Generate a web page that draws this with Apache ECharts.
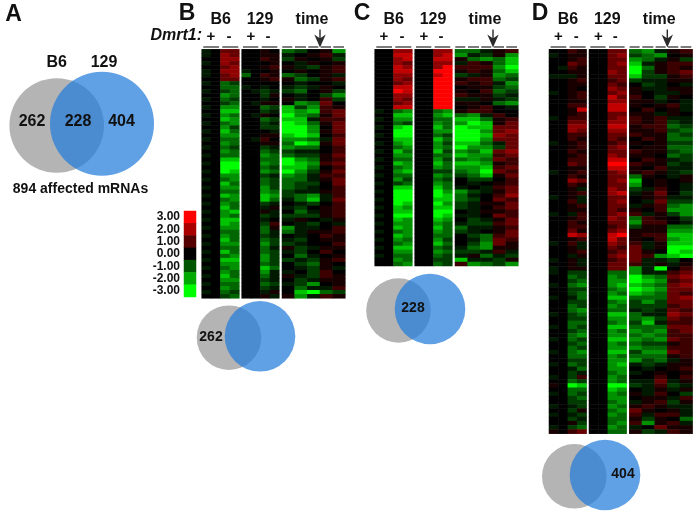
<!DOCTYPE html>
<html><head><meta charset="utf-8">
<style>html,body{margin:0;padding:0;background:#fff}#c{width:698px;height:515px;filter:blur(0.4px)}</style>
<script src="https://cdn.jsdelivr.net/npm/echarts@6/dist/echarts.min.js"></script>
</head><body><div id="c"></div>
<script>
// Cell codes: 0 = 0; a..f = positive steps (red); A..F = negative steps (green)
// Each row: B6 (+ +, - -)  129 (+ +, - -)  time (5 points)
const cellSteps = [0.3,0.7,1.2,1.7,2.3,3];
const panelBRows = [
"A0cc 00a0 CB0aD","A0dc 00aa A0abA","00dd 00ba Ba0aB","A0dc 000a 0Aa0a","00cd 00ab aABab","A0dd A00a 0a0ab","A0cd C0ba CB0aA","00cc 00ab aCBab",
"A0CB 0000 0A00A","00CC A0A0 ABAa0","A0BC 0ABA BC0aB","00DC 00Ba 0A0BD","A0CB 00A0 aA0bB","00BC 0Aaa 0DCc0","A0DD 00CB EBDba","00EE 00BA EDEbc",
"A0DC 0Aa0 FDCac","00ED 00CB EEAbb","A0CD 00BA FECac","00DB 00BB FFD0c","A0EC 000A FFDac","00DD 00aa EFE0b","A0CC 0Ab0 DDCAc","00DC 00aa CFEac",
"A0CB 00BA DCC0b","00DC 00CB BAA0b","A0CC 00DC CBBac","00EE 00CC FDCab","A0FF 00DC FEDbc","00FF 00CB EEC0b","A0FE 00DC FDBac","00DD 00BA DCAbb",
"A0CD 00CB CCAac","00EC 00CB CBB0c","A0DD 00DB CBA0b","00CC 00DC BAAab","A0ED 00ED BCDAb","00CD 00EC ACEAc","A0DC 00BA 0AB0b","00EC 00Aa AB0ab",
"A0DE 00aA 0CAab","00DC 00BA BBBab","A0EE 00A0 Aa0Aa","00ED 00Bb 0AB0A","A0DD 00Ca DAA0b","00CC 00CA CAaab","A0DC 00BA 0A0ba","00EC 00CB AB0aa",
"A0DD 00DB BA00b","00CC 00CA aBAaa","A0EC 00CB AB0b0","00CD 00DB 0CA0a","A0EE 00DB BABab","00DD 00CB 0BCa0","A0CD 00EC 0ABaA","00DC 00DA A0Bb0",
"A0EC 00CA aABba","00DD 00BA 0BAaa","A0CC 00CB ABD0a","00DC 00BA 0CAAb","A0CB 00Aa 0EFCB","00BC 00aA aDAba"];
const panelCRows = [
"00dd 00dd CCAab","00ee 00de DABaD","00de 00ee aCDCE","00dc 00dd AbaCE","00ed 00df bbbDF","00ee 00ff abaCE","00dd 00ef BAaDC","00dc 00ff abbCB",
"00cd 00ff babAD","00ee 00ff 0aaBC","00fe 00ff a0bCB","00dd 00ff baaBA","00dc 00ff AAaAB","00cd 00ff aa0CD","00ee 00ff 0ab0A",
"A0CD 00CD abb00","00EE 00DE CDAb0","A0DD 00CC EECab","00CB 00DC DFEac","A0EF 00EC FEEcc","00FF 00DD FFDcd","A0FF 00CB FFEdc","00EE 00EC FFDcc",
"A0DE 00DB EECAc","00CD 00DC FDDBc","A0EC 00EB DCEcd","00DD 00CC EDDbc","A0CC 00DB CDCcb","00ED 00EC EEDab","A0CD 00DC DDEbc","00DE 00BB CDFcb",
"A0CC 00DC BCEac","00DB 00CB 0BB0b","A0BC 00DC 0A0ab","00EE 00EC A0Abc","A0FF 00FD DBAac","00FF 00FE CA0bd","A0FF 00EE CB0cb","00FE 00FD BAaac",
"A0ED 00EE BA0bc","00EE 00FF 0Aaab","A0FF 00FE AA0cb","00ED 00ED 0BAac","A0DD 00DC ABBbc","00ED 00EC CAAab","A0CD 00DC BA0ac","00ED 00CC 0BCbc",
"A0DC 00DB 0ACcb","00CD 00EC 0BDca","A0EE 00CB ACDaa","00DD 00DC BBAbA","A0CC 00CB AaCAB","00DC 00BB EAABa","00CD 00CB bDCBD"];
const panelDRows = [
"00ba 00cc CDAab","A0aa 00cd BCD0a","00ab 00cc DCAaB","00cb 00cd EAabb","0Aba 00cc FCaba","00aa 00dc FBabc","AAAa 00cc EBBab","00ab 00bc BAAaa",
"00aa 00cb 0BA0A","00a0 00dc aAAaa","A0ab 00cd a0AAa","00ab 00ec b0Ba0","00aa 00dd aaA0A","00bb 00ee a0abA","00ae 00ee 0b0aA","00ab 00cc aaAa0",
"A0bb 00cd babAA","00cc 00dd babBA","00dd 00ee abbCB","00dc 00dd aabBC","00bb 00cc baaCB","00ba 00cb 0baCC","A0ab 00bc a0aBB","00ab 00cd 0aaCC",
"00ba 00cc baaBC","00ab 00dc aa0CB","00bb 00ee 0baAB","00cb 00ff baaBA","00aa 00ee a0bAA","A0ab 00cd abaAB","00ba 00cc Ca0Aa","00dc 00cd E0a0a",
"00ba 00cc D0a0A","00aA 00dc BAb0A","00ab 00de Aac0B","A0aA 00cc 0abAA","00bA 00cd 0AcBB","00ab 00cc AabCD","00aa 00cb a0bDD","A0Ab 00cd bAaBD",
"00ab 00dc Cba0B","00ba 00cc Dbb0A","00bb 00bc BaaCC","00ca 00cd aaaDD","00ed 00ef abbEE","00ab 00ec a0bDE","A0bA 00dc bAaEE","00aA 00cb cAaFF",
"00ab 00bc ca0FE","00Aa 00cd cbDEF","A0aA 00bc cAAB0","00aA 00cc bAaAa","A0aa 00cc DAF0b","A0BB 00CC DAAbc",
"00CB 00DC FDCcd","00BC 00DD FEDbc","A0CD 00DE EDCcd","00BB 00CD FEDcc","00BC 00DC EDCcb","A0AC 00EE CCCcd","00BB 00CD BDBcc","00CB 00DC BBBbc",
"00CD 00CC ABAcb","A0BC 00EE CAAdc","00BB 00DD CDBcb","00CC 00CD BEAbb","A0CB 00EE CCCcc","00BC 00DC DCDbc","00CD 00DD CDCbb","A0CB 00EE DCDcb",
"00BC 00DC CBBab","00CB 00DD DCCbb","A0CD 00EE BDDcb","00CC 00DC CCCab","00BB 00DD DBCAa","A0CB 00DE ABAaa","00AC 00DD 0A0ab","00BA 00CD A0a0a",
"A0Bb 00DC 00b0b","00CB 00DC AAcAa","a0FE 00FF BAbBA","00CC 00ED 0AaAa","A0CB 00DC aAb0B","00BC 00DD 0aaAb","00BB 00CD AabBa","A0AB 00DC abaAA",
"00Ba 00CD ca0aA","A0AB 00DC bAbbA","00BA 00CC aBa0C","00aB 00CD bDabA","A0BC 00DC A0caa","a0bc 00CC aBAba"];
const legendLabels = ["3.00","2.00","1.00","0.00","-1.00","-2.00","-3.00"];
const legendValues = [3,2,1,0,-1,-2,-3];
const mainVenn = {sets:["B6","129"],counts:[262,228,404],total:"894 affected mRNAs"};

const codeValue = ch => {
  if (ch === "0") return 0;
  const low = "abcdef".indexOf(ch);
  if (low >= 0) return cellSteps[low];
  return -cellSteps["ABCDEF".indexOf(ch)];
};

const panels = [
  {rows:panelBRows,dx:0,top:49.3,bottom:298.3,letter:"B",lx:187},
  {rows:panelCRows,dx:173,top:49.3,bottom:266,letter:"C",lx:362},
  {rows:panelDRows,dx:347.3,top:49.3,bottom:433.7,letter:"D",lx:540}
];
const grids=[],xAxes=[],yAxes=[],series=[],graphics=[];
const hidden = (type,extra)=>Object.assign({type,show:false},extra);

function heat(left,width,top,height,colCount,rowCount,data){
  const i=grids.length;
  grids.push({left,top,width,height,containLabel:false});
  xAxes.push(hidden("category",{gridIndex:i,data:[...Array(colCount).keys()]}));
  yAxes.push(hidden("category",{gridIndex:i,inverse:true,data:[...Array(rowCount).keys()]}));
  series.push({type:"heatmap",xAxisIndex:i,yAxisIndex:i,data,silent:true,progressive:0,animation:false});
}
const text=(t,x,y,font,align,color)=>graphics.push({type:"text",z:100,silent:true,
  style:{text:t,x,y,font,textAlign:align||"center",textVerticalAlign:"middle",fill:color||"#111"}});
const F="Liberation Sans, Arial, sans-serif";

panels.forEach(p=>{
  const rows=p.rows.map(r=>r.replace(/ /g,"").split("").map(codeValue));
  const h=p.bottom-p.top, n=rows.length;
  const blocks=[[201.7,37.6,0,4],[241.7,37.6,4,4],[282,63.3,8,5]];
  blocks.forEach(([x,w,start,cols])=>{
    const data=[];
    rows.forEach((r,y)=>{for(let c=0;c<cols;c++)data.push([c,y,r[start+c]]);});
    heat(x+p.dx,w,p.top,h,cols,n,data);
  });
  const d=p.dx;
  text(p.letter,p.lx,14,"bold 23px "+F);
  text("B6",220.7+d,20,"bold 16px "+F);
  text("129",260+d,20,"bold 16px "+F);
  text("time",312+d,20,"bold 16px "+F);
  [[211,"+"],[229,"-"],[251,"+"],[268,"-"]].forEach(([x,s])=>text(s,x+d,36.5,"bold 15px "+F));
  [[203.3,219],[222.3,238.3],[243,258.3],[261.7,277.3],[282.3,292.3],[295,306],[308.3,318.3],[320.7,331],[333.3,344]].forEach(([a,b])=>
    graphics.push({type:"rect",z:100,silent:true,shape:{x:a+d,y:46.3,width:b-a,height:1.4},style:{fill:"#444"}}));
  graphics.push({type:"polygon",z:101,silent:true,shape:{points:[[320+d,47.5],[314.3+d,34.5],[319.3+d,38],[319.3+d,29.5],[320.7+d,29.5],[320.7+d,38],[325.7+d,34.5]]},style:{fill:"#2b2b2b"}});
});
text("A",13.5,15,"bold 23px "+F);
text("Dmrt1:",202,36,"italic bold 16px "+F,"right");

// colour legend
{
  const i=grids.length;
  grids.push({left:184,top:211,width:12,height:86});
  xAxes.push(hidden("category",{gridIndex:i,data:[0]}));
  yAxes.push({type:"category",gridIndex:i,inverse:true,data:legendLabels,axisLine:{show:false},axisTick:{show:false},
    axisLabel:{interval:0,fontFamily:F,fontWeight:"bold",fontSize:12,color:"#111",margin:4}});
  series.push({type:"heatmap",xAxisIndex:i,yAxisIndex:i,silent:true,animation:false,data:legendValues.map((v,k)=>[0,k,v])});
}

// Venn overlays: one page-sized value grid
{
  const i=grids.length;
  grids.push({left:0,top:0,width:698,height:515});
  xAxes.push(hidden("value",{gridIndex:i,min:0,max:698}));
  yAxes.push(hidden("value",{gridIndex:i,min:0,max:515,inverse:true}));
  const scatter=(pts,color)=>series.push({type:"scatter",xAxisIndex:i,yAxisIndex:i,silent:true,animation:false,z:3,
    data:pts.map(q=>({value:[q[0],q[1]],symbolSize:q[2]*2})),itemStyle:{color,opacity:1}});
  scatter([[56.7,125.5,47.3],[229,337.7,32.3],[398.5,310.5,32.3],[574.3,476.3,32.3]],"#b4b4b4");
  scatter([[102,123.7,52],[260,336.3,35.3],[430,309,35.3],[605,475,35.3]],"rgba(34,123,217,0.72)");
}
text(mainVenn.sets[0],56.7,62.7,"bold 16px "+F);
text(mainVenn.sets[1],104,62.7,"bold 16px "+F);
text(String(mainVenn.counts[0]),32,121.5,"bold 16px "+F);
text(String(mainVenn.counts[1]),78,121.5,"bold 16px "+F);
text(String(mainVenn.counts[2]),121.5,121.5,"bold 16px "+F);
text(mainVenn.total,80.5,189,"bold 14px "+F);
text(String(mainVenn.counts[0]),211,337.5,"bold 14px "+F);
text(String(mainVenn.counts[1]),413,308,"bold 14px "+F);
text(String(mainVenn.counts[2]),623,474,"bold 14px "+F);

const chart=echarts.init(document.getElementById("c"),null,{renderer:"canvas"});
chart.setOption({animation:false,backgroundColor:"#fff",
  visualMap:{show:false,min:-3,max:3,seriesIndex:series.map((s,i)=>s.type==="heatmap"?i:-1).filter(i=>i>=0),
    inRange:{color:["#00ff00","#000000","#ff0000"]}},
  grid:grids,xAxis:xAxes,yAxis:yAxes,series,graphic:{elements:graphics}});
</script></body></html>
